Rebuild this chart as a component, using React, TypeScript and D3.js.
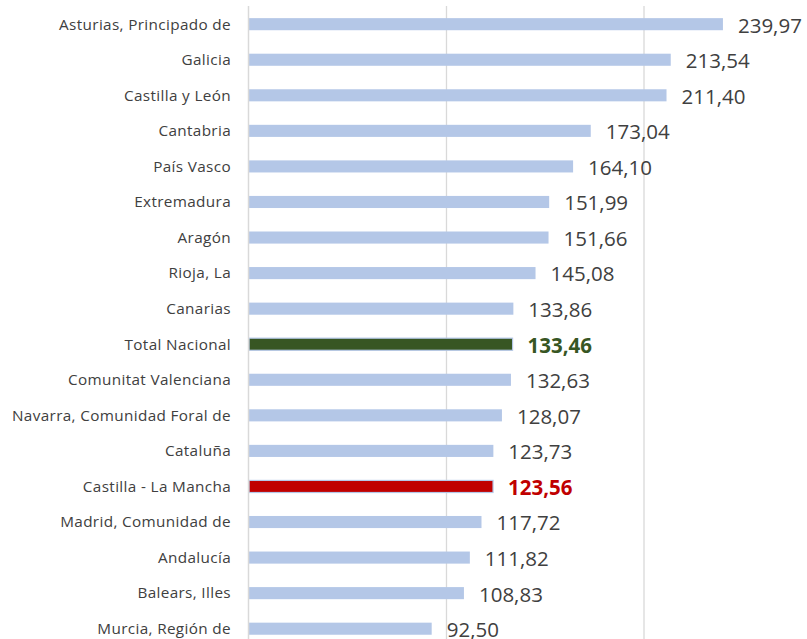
import React from "react";
import * as d3 from "d3";

const categories = [
  "Asturias, Principado de",
  "Galicia",
  "Castilla y León",
  "Cantabria",
  "País Vasco",
  "Extremadura",
  "Aragón",
  "Rioja, La",
  "Canarias",
  "Total Nacional",
  "Comunitat Valenciana",
  "Navarra, Comunidad Foral de",
  "Cataluña",
  "Castilla - La Mancha",
  "Madrid, Comunidad de",
  "Andalucía",
  "Balears, Illes",
  "Murcia, Región de",
];
const values = [
  239.97, 213.54, 211.4, 173.04, 164.1, 151.99, 151.66, 145.08, 133.86, 133.46,
  132.63, 128.07, 123.73, 123.56, 117.72, 111.82, 108.83, 92.5,
];
const gridTicks = [100, 200, 300];
const highlights: Record<string, string> = {
  "Total Nacional": "#375623",
  "Castilla - La Mancha": "#C00000",
};

const W = 807;
const H = 639;

export default function App() {
  const x = d3.scaleLinear().domain([0, 300]).range([249, 841.5]);
  const y = d3
    .scaleBand<string>()
    .domain(categories)
    .range([6.4, 6.4 + 18 * 35.56])
    .paddingInner(0.66)
    .paddingOuter(0.33);
  const fmt = (v: number) => v.toFixed(2).replace(".", ",");
  const font = "'Open Sans', sans-serif";
  const bw = y.bandwidth();
  return (
    <svg
      width={W}
      height={H}
      style={{ position: "absolute", left: 0, top: 0, background: "#fff" }}
    >
      {gridTicks.map((t) => (
        <line
          key={t}
          x1={x(t)}
          x2={x(t)}
          y1={6}
          y2={H}
          stroke="#d9d9d9"
          strokeWidth={1.3}
        />
      ))}
      {categories.map((c, i) => {
        const yc = (y(c) as number) + bw / 2;
        const hl = highlights[c];
        return (
          <g key={c}>
            <text
              x={231}
              y={yc}
              dy="0.35em"
              textAnchor="end"
              fontFamily={font}
              fontSize={15.3}
              letterSpacing={0.35}
              fill="#404040"
            >
              {c}
            </text>
            <rect
              x={x(0)}
              y={y(c)}
              width={x(values[i]) - x(0)}
              height={bw}
              fill={hl || "#B4C7E7"}
              stroke={hl ? "#B4C7E7" : "none"}
              strokeWidth={1.2}
            />
            <text
              x={x(values[i]) + 15}
              y={yc + 1}
              dy="0.36em"
              fontFamily={font}
              fontSize={20.5}
              fontWeight={hl ? 700 : 400}
              fill={hl || "#404040"}
            >
              {fmt(values[i])}
            </text>
          </g>
        );
      })}
      <line
        x1={x(0) - 0.5}
        x2={x(0) - 0.5}
        y1={6}
        y2={H}
        stroke="#d9d9d9"
        strokeWidth={1.5}
      />
    </svg>
  );
}
